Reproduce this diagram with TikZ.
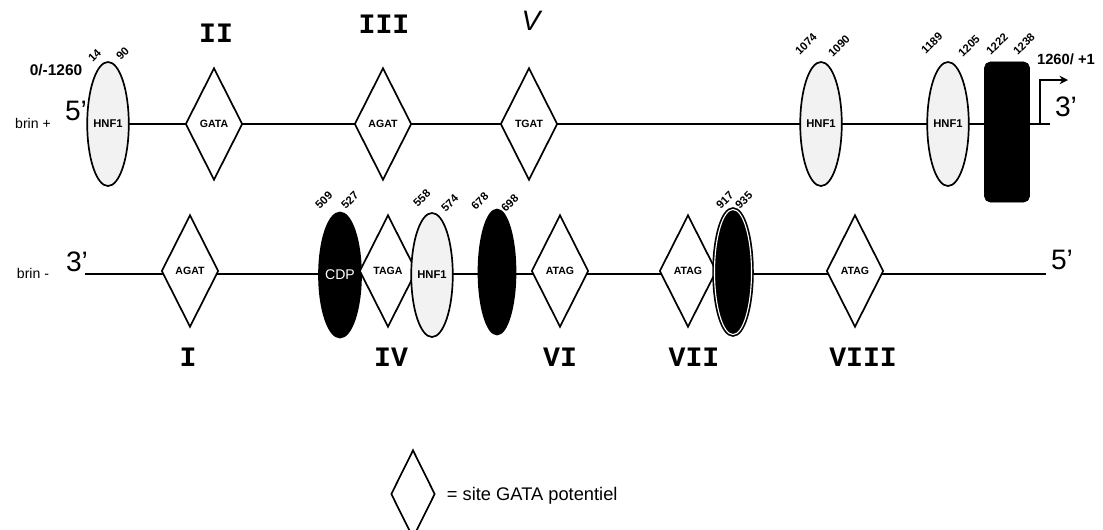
\documentclass[tikz,border=0pt]{standalone}
\usepackage{fontspec}
\setmainfont{Liberation Sans}
\newfontfamily\romfont{Liberation Mono}
\usepackage{tikz}
\usetikzlibrary{shapes.geometric,arrows.meta}

\begin{document}
\begin{tikzpicture}[x=0.025cm, y=-0.025cm,
    strand/.style={line width=2pt},
    site/.style={diamond, draw, fill=white, line width=1.2pt, aspect=0.5, inner sep=0pt, minimum width=1.425cm, minimum height=2.8cm, font=\fontsize{7.5}{8}\selectfont\bfseries},
    hnf/.style={ellipse, draw, fill=gray!10, line width=1.2pt, inner sep=0pt, minimum width=0.875cm, minimum height=3.1cm, font=\fontsize{8}{9}\selectfont\bfseries},
    cdp/.style={ellipse, draw, fill=black, line width=1.2pt, inner sep=0pt, minimum width=0.925cm, minimum height=3.125cm, text=white, font=\fontsize{10}{11}\selectfont},
    posnum/.style={rotate=45, anchor=west, inner sep=0pt, font=\fontsize{8}{8}\selectfont\bfseries},
    roman/.style={font=\romfont\bfseries\fontsize{20}{22}\selectfont},
    prime/.style={font=\fontsize{20}{22}\selectfont},
    brin/.style={font=\fontsize{10}{11}\selectfont}]

\useasboundingbox (0,0) rectangle (1103,529);

% Top strand (brin +)
\coordinate (top5) at (100,124);
\coordinate (top3) at (1050,124);
\draw[strand] (top5) -- (top3);

\node[brin] (brinplus) at (33,123) {brin +};
\node[prime] (p5top) at (76,111) {5'};
\node[font=\fontsize{11}{12}\selectfont\bfseries] (origin) at (56,70) {0/-1260};

\node[hnf] (hnfa) at (108,124) {HNF1};
\node[site] (gata) at (214,124) {GATA};
\node[site] (agat) at (383,124) {AGAT};
\node[site] (tgat) at (529,124) {TGAT};
\node[hnf] (hnfb) at (821,124) {HNF1};
\node[hnf] (hnfc) at (948,124) {HNF1};
\node[rectangle, draw, fill=black, rounded corners=4pt, minimum width=1.125cm, minimum height=3.5cm] (tata) at (1007,132) {};

\node[roman] (rII) at (216,33) {II};
\node[roman] (rIII) at (384,24) {III};
\node[font=\fontsize{20}{22}\selectfont\itshape] (rV) at (531,21) {V};

\node[posnum] (n14) at (90,60) {14};
\node[posnum] (n90) at (118,58) {90};
\node[posnum] (n1074) at (797,53) {1074};
\node[posnum] (n1090) at (830,55) {1090};
\node[posnum] (n1189) at (923,52) {1189};
\node[posnum] (n1205) at (960,55) {1205};
\node[posnum] (n1222) at (988,53) {1222};
\node[posnum] (n1238) at (1015,53) {1238};

% start of transcription
\coordinate (tss) at (1040,124);
\coordinate (tssup) at (1040,80);
\coordinate (tssend) at (1068,80);
\draw[line width=1.2pt, -{Stealth[length=6pt,width=6pt]}] (tss) -- (tssup) -- (tssend);
\node[font=\fontsize{10.5}{12}\selectfont\bfseries] (tsslabel) at (1066,59) {1260/ +1};
\node[prime] (p3top) at (1066,107) {3'};

% Bottom strand (brin -)
\coordinate (bot3) at (85,274);
\coordinate (bot5) at (1046,274);
\draw[strand] (bot3) -- (bot5);

\node[brin] (brinminus) at (33,273) {brin -};
\node[prime] (p3bot) at (77,262) {3'};
\node[prime] (p5bot) at (1062,260) {5'};

\node[site] (agatI) at (190,271) {AGAT};
\node[cdp] (cdpa) at (340,275) {CDP};
\node[site] (taga) at (388,271) {TAGA};
\node[hnf] (hnfd) at (432,275) {HNF1};
\node[cdp] (cdpb) at (497,272) {};
\node[site] (atagVI) at (560,271) {ATAG};
\node[site] (atagVII) at (688,271) {ATAG};
\node[cdp, double=white, double distance=0.8pt] (cdpc) at (733,272) {};
\node[site] (atagVIII) at (855,271) {ATAG};

\node[posnum] (n509) at (317,207) {509};
\node[posnum] (n527) at (343,207) {527};
\node[posnum] (n558) at (415,205) {558};
\node[posnum] (n574) at (443,210) {574};
\node[posnum] (n678) at (473,208) {678};
\node[posnum] (n698) at (503,210) {698};
\node[posnum] (n917) at (718,207) {917};
\node[posnum] (n935) at (737,207) {935};

\node[roman] (rI) at (188,357) {I};
\node[roman] (rIV) at (391,357) {IV};
\node[roman] (rVI) at (560,357) {VI};
\node[roman] (rVII) at (694,357) {VII};
\node[roman] (rVIII) at (863,357) {VIII};

% Legend
\node[site, minimum width=1.1cm, minimum height=2.2cm] (legsite) at (413,494) {};
\node[anchor=west, font=\fontsize{13}{15}\selectfont] (legtext) at (442,496) {= site GATA potentiel};

\end{tikzpicture}
\end{document}
